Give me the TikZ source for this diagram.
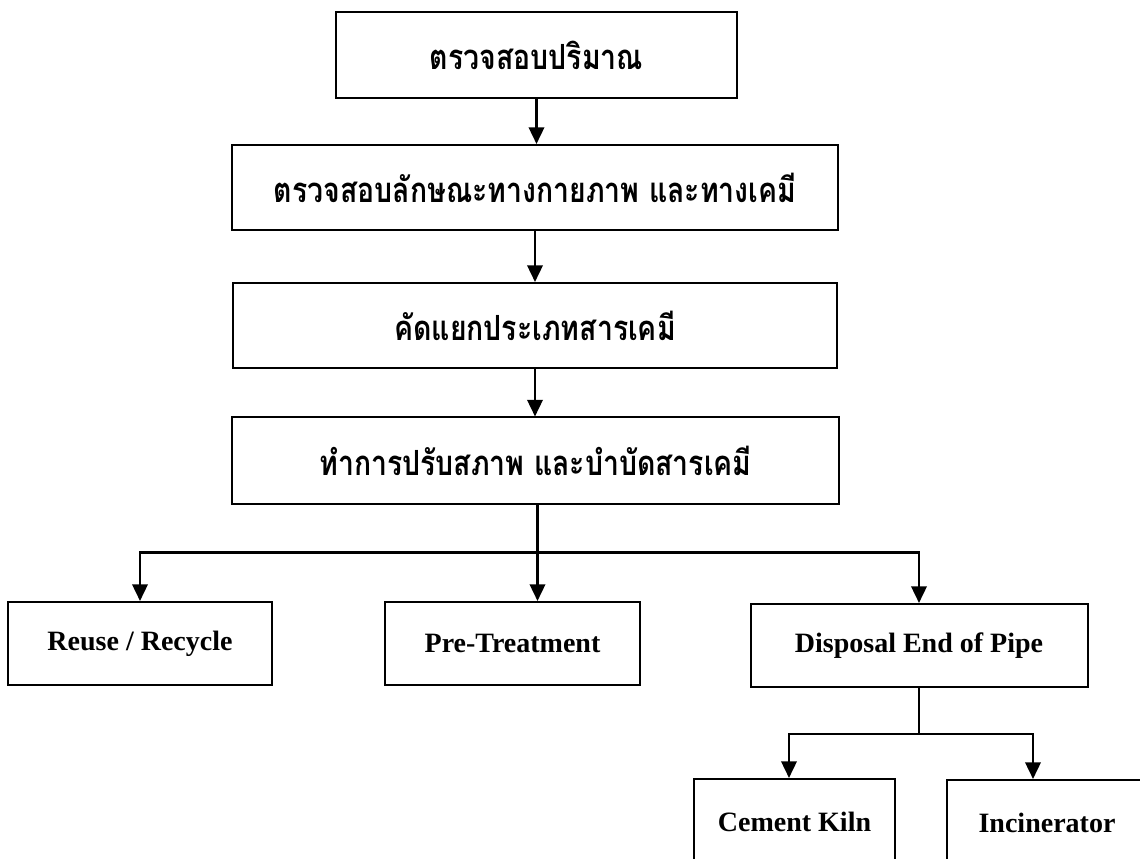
\documentclass[tikz,border=0pt]{standalone}
\usepackage{fontspec}
\setmainfont{Liberation Serif}
\newfontfamily\thaifont[Script=Thai,FakeStretch=0.82]{Loma}
\usetikzlibrary{arrows.meta,calc}
\def\px{0.75pt}
\tikzset{
  box/.style={draw,line width=1.5pt,align=center,inner sep=0pt},
  thbox/.style={box,font=\thaifont\bfseries\fontsize{26pt}{30pt}\selectfont},
  enbox/.style={box,font=\bfseries\fontsize{21pt}{25pt}\selectfont},
  link/.style={line width=1.9pt,-{Triangle[length=12.5pt,width=11.5pt]}},
  thin/.style={line width=1.4pt}
}
\begin{document}
\begin{tikzpicture}[x=\px,y=-\px]
            \useasboundingbox (0,0) rectangle (1140,859);
            % la chaine principale
            \node [thbox,minimum width=401*\px,minimum height=86*\px] (qty) at (536.5,55) {ตรวจสอบปริมาณ};
            \node [thbox,minimum width=606*\px,minimum height=85*\px] (phys) at (535,187.5) {ตรวจสอบลักษณะทางกายภาพ และทางเคมี};
            \node [thbox,minimum width=604*\px,minimum height=85*\px] (sort) at (535,325.5) {คัดแยกประเภทสารเคมี};
            \node [thbox,minimum width=607*\px,minimum height=87*\px] (treat) at (535.5,461) {ทำการปรับสภาพ และบำบัดสารเคมี};
            \draw [link] (qty.south) -- (qty.south |- phys.north);
            \draw [link] (phys.south) -- (phys.south |- sort.north);
            \draw [link] (sort.south) -- (sort.south |- treat.north);
            % les trois voies
            \node [enbox,minimum width=264*\px,minimum height=83*\px] (reuse) at (140,643.5) {Reuse / Recycle};
            \node [enbox,minimum width=255*\px,minimum height=83*\px] (pre) at (512.5,643.5) {Pre-Treatment};
            \node [enbox,minimum width=337*\px,minimum height=83*\px] (disp) at (919,645.5) {Disposal End of Pipe};
            \coordinate (split) at ($(treat.south)+(2,47)$);
            \draw [link] ($(treat.south)+(2,0)$) -- (split |- pre.north);
            \draw [link] (split) -| (reuse.north);
            \draw [link] (split) -| (disp.north);
            % elimination finale
            \node [enbox,minimum width=201*\px,minimum height=86*\px] (kiln) at (794.5,822) {Cement Kiln};
            \node [enbox,minimum width=200*\px,minimum height=86*\px] (inc) at (1047,823) {Incinerator};
            \coordinate (fork) at ($(disp.south)+(0,46)$);
            \draw [thin] (disp.south) -- (fork);
            \draw [link] (fork) -| ($(kiln.north)+(-5.5,0)$);
            \draw [link] (fork) -| ($(inc.north)+(-14,0)$);
        \end{tikzpicture}
\end{document}
